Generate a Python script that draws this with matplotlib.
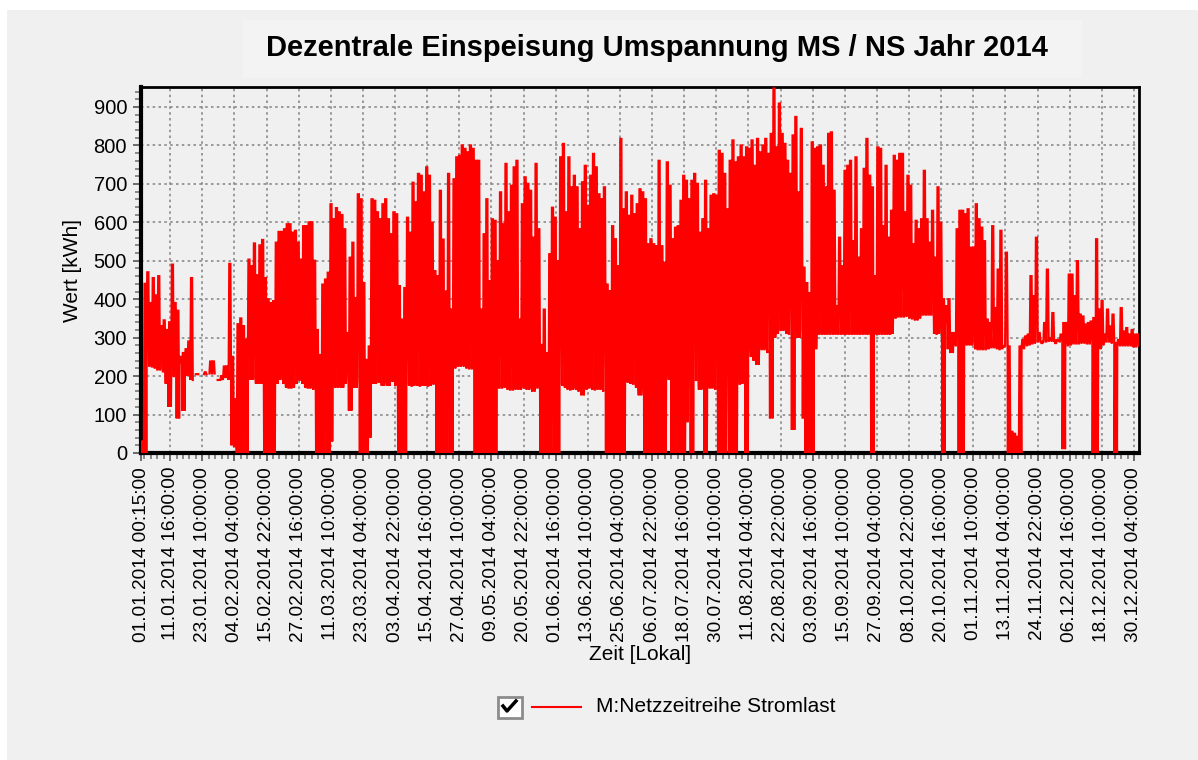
import numpy as np
import matplotlib
matplotlib.use("Agg")
import matplotlib.pyplot as plt
from matplotlib.patches import Rectangle
from matplotlib.lines import Line2D
from datetime import datetime, timedelta

nan = np.nan

# Daily night base and midday peak [kWh] (nan = no data)
day_base = [
    0, 0, 230, 225, 225, 220, 215, 220, 210, 180,
    120, 200, 200, 90, 230, 110, 200, 210, 190, nan,
    205, nan, nan, 205, nan, 207, 207, nan, 190, 190,
    195, 200, 190, 20, 15, 0, 0, 0, 0, 200,
    190, 195, 180, 190, 180, 0, 0, 0, 0, 180,
    190, 200, 180, 170, 170, 170, 180, 190, 190, 180,
    170, 170, 168, 165, 0, 0, 0, 0, 0, 30,
    172, 170, 175, 170, 180, 190, 110, 180, 170, 190,
    0, 0, 0, 40, 190, 180, 185, 185, 175, 185,
    175, 190, 185, 175, 0, 0, 0, 180, 175, 175,
    180, 175, 175, 180, 175, 175, 180, 180, 0, 0,
    0, 0, 0, 0, 220, 230, 225, 230, 225, 220,
    220, 220, 0, 0, 0, 0, 0, 0, 0, 0,
    170, 170, 170, 180, 165, 165, 165, 170, 165, 170,
    170, 165, 170, 160, 170, 170, 0, 0, 0, 0,
    0, 0, 0, 180, 175, 170, 165, 165, 170, 165,
    160, 150, 165, 170, 170, 165, 165, 170, 165, 160,
    0, 0, 0, 0, 0, 0, 0, 185, 185, 180,
    180, 170, 150, 170, 0, 0, 0, 0, 0, 0,
    50, 0, 200, 190, 0, 0, 0, 0, 0, 80,
    190, 0, 190, 190, 165, 190, 0, 170, 170, 170,
    165, 0, 0, 0, 120, 0, 180, 0, 180, 180,
    200, 0, 270, 250, 240, 230, 270, 270, 270, 260,
    90, 300, 310, 320, 320, 320, 310, 310, 60, 320,
    300, 320, 90, 0, 0, 0, 270, 310, 310, 310,
    310, 310, 310, 310, 310, 310, 310, 310, 310, 310,
    310, 310, 310, 310, 310, 310, 310, 0, 310, 310,
    310, 310, 310, 310, 310, 350, 355, 355, 355, 355,
    360, 350, 350, 345, 350, 360, 360, 360, 360, 360,
    310, 310, 340, 0, 330, 270, 260, 280, 280, 0,
    0, 280, 290, 280, 290, 270, 270, 270, 270, 270,
    275, 275, 275, 270, 270, 280, 280, 0, 0, 0,
    0, 0, 270, 280, 280, 285, 285, 290, 290, 290,
    290, 290, 295, 290, 295, 290, 290, 10, 280, 280,
    285, 285, 285, 285, 290, 285, 285, 285, 0, 0,
    270, 280, 290, 290, 290, 285, 0, 280, 280, 280,
    280, 280, 280, 275, 280,
]
day_peak = [
    30, 440, 470, 390, 455, 410, 460, 330, 345, 320,
    340, 490, 390, 370, 250, 260, 270, 290, 455, nan,
    205, nan, nan, 210, nan, 238, 238, nan, 190, 200,
    225, 225, 492, 250, 140, 335, 350, 330, 295, 503,
    486, 545, 462, 540, 554, 455, 400, 390, 395, 547,
    575, 575, 582, 595, 595, 573, 578, 547, 503, 590,
    590, 600, 600, 500, 320, 255, 438, 451, 469, 647,
    608, 637, 626, 619, 582, 312, 508, 547, 403, 673,
    660, 442, 242, 277, 660, 656, 626, 608, 647, 660,
    608, 569, 626, 621, 434, 347, 429, 612, 573, 703,
    652, 726, 721, 678, 743, 721, 599, 473, 460, 682,
    555, 420, 726, 373, 712, 769, 773, 800, 791, 782,
    800, 791, 760, 760, 373, 569, 660, 447, 608, 604,
    499, 678, 595, 752, 626, 695, 743, 760, 347, 647,
    717, 700, 682, 560, 752, 582, 281, 373, 260, 517,
    638, 612, 499, 769, 804, 626, 769, 691, 721, 691,
    582, 704, 747, 643, 721, 778, 743, 673, 660, 691,
    438, 421, 590, 556, 486, 817, 634, 678, 617, 669,
    621, 647, 686, 678, 660, 543, 556, 543, 538, 760,
    538, 495, 756, 695, 556, 586, 590, 656, 721, 708,
    660, 708, 726, 700, 573, 608, 708, 582, 669, 673,
    669, 786, 778, 726, 634, 760, 813, 756, 769, 800,
    769, 795, 791, 813, 747, 817, 782, 800, 817, 778,
    830, 948, 795, 909, 830, 804, 760, 726, 826, 874,
    678, 843, 482, 442, 416, 808, 791, 795, 800, 747,
    691, 830, 834, 682, 382, 560, 486, 734, 747, 760,
    551, 769, 508, 582, 739, 817, 721, 691, 460, 795,
    791, 590, 747, 560, 630, 773, 760, 778, 778, 626,
    721, 695, 543, 604, 582, 608, 734, 608, 547, 630,
    508, 691, 599, 400, 382, 400, 312, 312, 582, 630,
    630, 621, 634, 534, 534, 647, 608, 586, 551, 347,
    338, 590, 377, 477, 578, 277, 521, 277, 55, 50,
    42, 277, 294, 303, 308, 460, 408, 560, 312, 286,
    338, 477, 299, 364, 286, 294, 308, 338, 338, 464,
    464, 408, 499, 360, 355, 334, 338, 342, 351, 556,
    373, 395, 308, 373, 329, 360, 286, 294, 377, 316,
    325, 308, 320, 308, 308,
]

tick_labels = [
    "01.01.2014 00:15:00", "11.01.2014 16:00:00", "23.01.2014 10:00:00",
    "04.02.2014 04:00:00", "15.02.2014 22:00:00", "27.02.2014 16:00:00",
    "11.03.2014 10:00:00", "23.03.2014 04:00:00", "03.04.2014 22:00:00",
    "15.04.2014 16:00:00", "27.04.2014 10:00:00", "09.05.2014 04:00:00",
    "20.05.2014 22:00:00", "01.06.2014 16:00:00", "13.06.2014 10:00:00",
    "25.06.2014 04:00:00", "06.07.2014 22:00:00", "18.07.2014 16:00:00",
    "30.07.2014 10:00:00", "11.08.2014 04:00:00", "22.08.2014 22:00:00",
    "03.09.2014 16:00:00", "15.09.2014 10:00:00", "27.09.2014 04:00:00",
    "08.10.2014 22:00:00", "20.10.2014 16:00:00", "01.11.2014 10:00:00",
    "13.11.2014 04:00:00", "24.11.2014 22:00:00", "06.12.2014 16:00:00",
    "18.12.2014 10:00:00", "30.12.2014 04:00:00",
]

plt.rcParams["font.family"] = ["Liberation Sans", "DejaVu Sans"]

W, H = 1198, 760
fig = plt.figure(figsize=(W / 100, H / 100), dpi=100)
fig.patch.set_facecolor("white")


def fx(x):
    return x / W


def fy(y):
    return 1 - y / H


# grey panel and title box
fig.add_artist(Rectangle((fx(7), 0), 1 - fx(7), fy(10), transform=fig.transFigure,
                         facecolor="#f0f0f0", edgecolor="none", zorder=0))
fig.add_artist(Rectangle((fx(243), fy(78)), fx(1082) - fx(243), fy(20) - fy(78),
                         transform=fig.transFigure, facecolor="#f3f3f3",
                         edgecolor="none", zorder=0))
fig.text(fx(657), fy(48), "Dezentrale Einspeisung Umspannung MS / NS Jahr 2014",
         ha="center", va="center", fontsize=21, fontweight="bold")

ax = fig.add_axes([fx(141), fy(453), fx(1139) - fx(141), fy(87) - fy(453)])
ax.set_facecolor("#f0f0f0")

# one trapezoid per day: night base -> midday peak -> night base
start = datetime(2014, 1, 1)
xs, ys = [], []
for d, (b, p) in enumerate(zip(day_base, day_peak)):
    for frac, v in ((0.05, b), (0.3, p), (0.7, p), (0.95, b)):
        xs.append(start + timedelta(days=d + frac))
        ys.append(v)
ax.plot(xs, ys, color="#ff0000", lw=1.6, solid_joinstyle="miter", zorder=3)

tick_times = [datetime.strptime(s, "%d.%m.%Y %H:%M:%S") for s in tick_labels]
ax.set_xticks(tick_times)
ax.set_xticklabels(tick_labels, rotation=90, fontsize=13.7)
step = (tick_times[2] - tick_times[1]) / 5
minor = []
t = tick_times[1]
while t > tick_times[0]:
    t -= step
    if t > tick_times[0]:
        minor.append(t)
t = tick_times[1]
while t < datetime(2015, 1, 1):
    minor.append(t)
    t += step
ax.set_xticks(minor, minor=True)
ax.set_xlim(tick_times[0], datetime(2015, 1, 1))

ax.set_ylim(0, 952)
ax.set_yticks(np.arange(0, 901, 100))
ax.set_yticks(np.arange(0, 951, 20), minor=True)
ax.tick_params(axis="y", labelsize=14.5)

ax.tick_params(which="major", direction="out", length=6, width=1.2, color="#555555", pad=4)
ax.tick_params(which="minor", direction="out", length=4, width=1.2, color="#777777")
ax.grid(True, which="major", color="#8a8a8a", linestyle=(0, (1.5, 2)), lw=1.2)
ax.set_axisbelow(True)

for side, lw in (("left", 3), ("bottom", 3), ("top", 2), ("right", 2)):
    ax.spines[side].set_linewidth(lw)
    ax.spines[side].set_color("black")

ax.set_ylabel("Wert [kWh]", fontsize=15, labelpad=8)
fig.text(fx(640), fy(655), "Zeit [Lokal]", ha="center", va="center", fontsize=15)

# legend with checkbox
fig.add_artist(Rectangle((fx(498), fy(718)), fx(522) - fx(498), fy(697) - fy(718),
                         transform=fig.transFigure, facecolor="white",
                         edgecolor="#8c8c8c", lw=2))
fig.add_artist(Line2D([fx(503), fx(507), fx(516)], [fy(706), fy(711), fy(701)],
                      transform=fig.transFigure, color="black", lw=2.5))
fig.add_artist(Line2D([fx(532), fx(581)], [fy(707), fy(707)],
                      transform=fig.transFigure, color="#ff0000", lw=1.5))
fig.text(fx(596), fy(707), "M:Netzzeitreihe Stromlast", ha="left", va="center", fontsize=15)

fig.savefig("out.png", dpi=100)
